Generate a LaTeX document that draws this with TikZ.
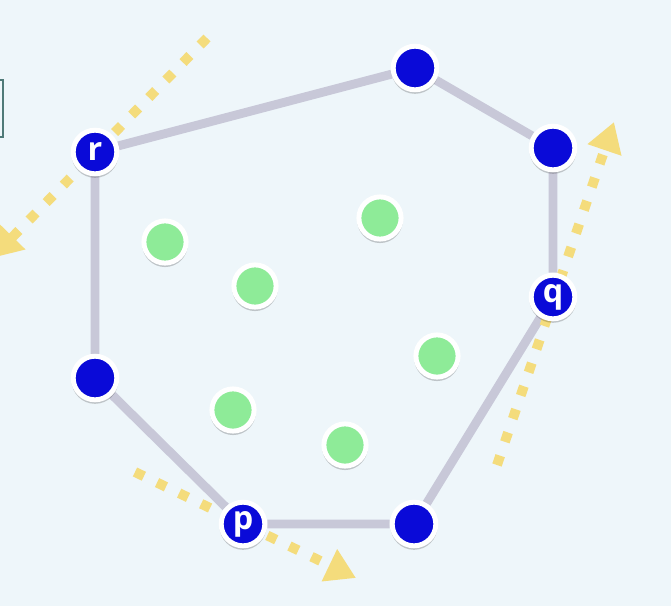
\documentclass[tikz,border=0pt]{standalone}
\usepackage{xcolor}
\usepackage{tikz}
\usepackage{fontspec}
\newfontfamily\lblfont{Open Sans}
\usetikzlibrary{arrows.meta, backgrounds, shadows}
\definecolor{hullblue}{HTML}{0A0AD8}
\definecolor{ptgreen}{HTML}{8EEB98}
\definecolor{sweepyellow}{HTML}{F4DC7C}
\definecolor{edgegray}{HTML}{C8C8D8}
\definecolor{bgcol}{HTML}{EEF6FA}
\definecolor{panelgray}{HTML}{4F7A78}

\begin{document}
\begin{tikzpicture}[
    x=0.025cm, y=-0.025cm,
    hullpt/.style={circle, fill=hullblue, draw=white, line width=3.5pt,
                   minimum size=31pt, inner sep=0pt, text=white,
                   font=\lblfont\bfseries\fontsize{23}{23}\selectfont,
                   drop shadow={shadow xshift=0pt, shadow yshift=-1.5pt,
                                shadow scale=1.08, fill=black, opacity=0.2}},
    inpt/.style={circle, fill=ptgreen, draw=white, line width=3.5pt,
                 minimum size=30pt, inner sep=0pt,
                 drop shadow={shadow xshift=0pt, shadow yshift=-1.5pt,
                              shadow scale=1.08, fill=black, opacity=0.2}},
    hulledge/.style={draw=edgegray, line width=6.3pt},
    sweep/.style={draw=sweepyellow, line width=7pt, dash pattern=on 7pt off 10.4pt,
                  -{Triangle[width=24pt, length=21pt]}},
]
    \path[use as bounding box] (0,0) rectangle (671,606);

    % hull points
    \node[hullpt] (r) at (95,152) {r};
    \node[hullpt] (top) at (415,68) {};
    \node[hullpt] (ne) at (553,148) {};
    \node[hullpt] (q) at (553,297) {q};
    \node[hullpt] (se) at (414,524) {};
    \node[hullpt] (p) at (243,524) {p};
    \node[hullpt] (w) at (95,378) {};

    % inner points
    \node[inpt] (i1) at (165,242) {};
    \node[inpt] (i2) at (255,286) {};
    \node[inpt] (i3) at (380,218) {};
    \node[inpt] (i4) at (437,356) {};
    \node[inpt] (i5) at (233,410) {};
    \node[inpt] (i6) at (345,445) {};

    % ends of the sweep lines
    \coordinate (rs) at (207,38);
    \coordinate (re) at (-8,258);
    \coordinate (qs) at (497,465);
    \coordinate (qe) at (614,122);
    \coordinate (ps) at (135,472);
    \coordinate (pe) at (356,578);

    \begin{scope}[on background layer]
        \fill[bgcol] (0,0) rectangle (671,606);
        \draw[hulledge] (r) -- (top) -- (ne) -- (q) -- (se) -- (p) -- (w) -- (r);
        \draw[sweep] (rs) -- (re);
        \draw[sweep] (qs) -- (qe);
        \draw[sweep] (ps) -- (pe);
    \end{scope}

    % panel edge at left
    \draw[panelgray, line width=1pt] (-20,80) rectangle (3,137);
\end{tikzpicture}
\end{document}
